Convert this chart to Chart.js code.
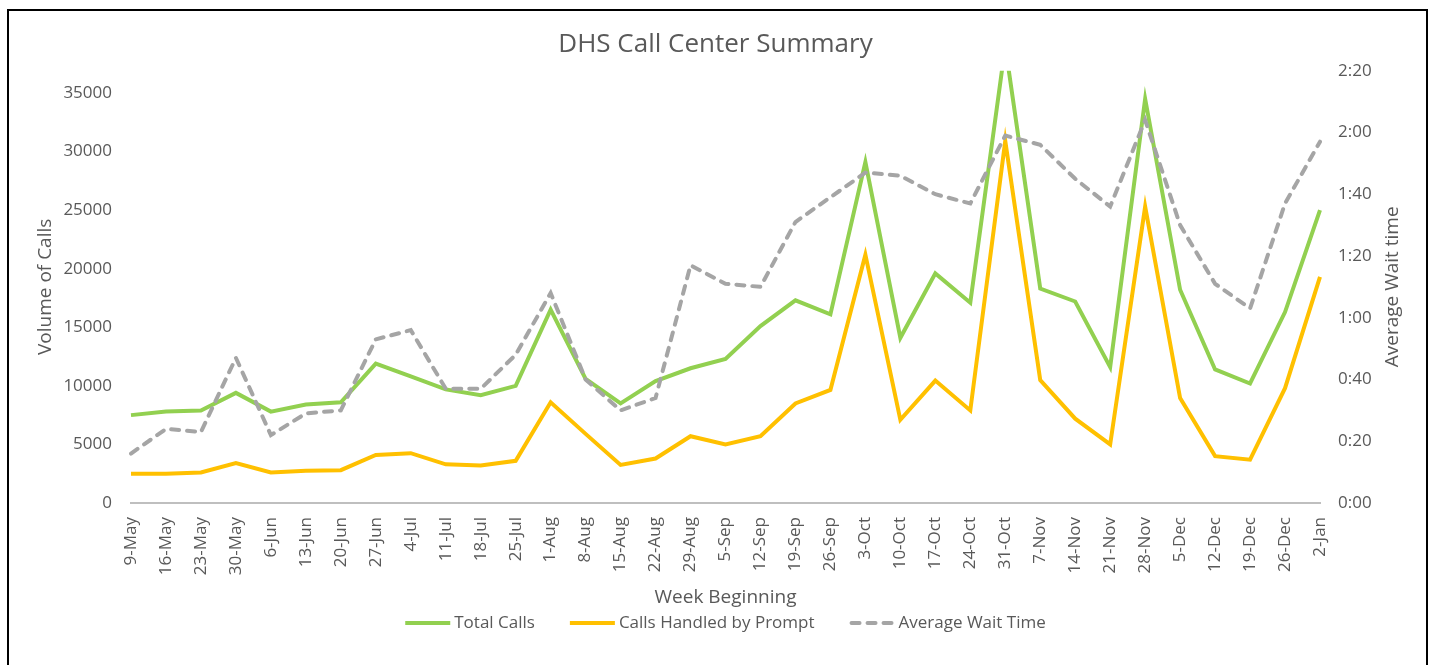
<!DOCTYPE html>
<html><head><meta charset="utf-8">
<script src="https://cdn.jsdelivr.net/npm/chart.js@4.4.1/dist/chart.umd.min.js"></script>
<style>
html,body{margin:0;padding:0;background:#fff;width:1431px;height:665px;overflow:hidden;}
#wrap{position:absolute;left:0;top:0;width:1431px;height:665px;}
#frame{position:absolute;left:7px;top:9px;width:1421px;height:700px;border:2px solid #000;box-sizing:border-box;pointer-events:none;}
</style></head><body>
<div id="wrap"><canvas id="c" width="1431" height="665"></canvas></div>
<div id="frame"></div>
<script>
const weeks = ['9-May','16-May','23-May','30-May','6-Jun','13-Jun','20-Jun','27-Jun','4-Jul','11-Jul','18-Jul','25-Jul','1-Aug','8-Aug','15-Aug','22-Aug','29-Aug','5-Sep','12-Sep','19-Sep','26-Sep','3-Oct','10-Oct','17-Oct','24-Oct','31-Oct','7-Nov','14-Nov','21-Nov','28-Nov','5-Dec','12-Dec','19-Dec','26-Dec','2-Jan'];
const totalCalls = [7500,7800,7900,9400,7800,8400,8600,11900,10800,9700,9200,10000,16500,10600,8500,10400,11500,12300,15100,17300,16100,29100,14100,19600,17100,39000,18300,17200,11600,34500,18200,11400,10200,16300,25000];
const promptCalls = [2500,2500,2600,3400,2600,2750,2800,4100,4250,3300,3200,3600,8600,5900,3250,3800,5700,5000,5700,8500,9650,21200,7100,10450,7900,30900,10500,7200,5000,25300,8950,4000,3700,9800,19300];
const waitSeconds = [16,24,23,47,22,29,30,53,56,37,37,48,68,40,30,34,77,71,70,91,99,107,106,100,97,119,116,105,96,124,90,71,63,97,117];
const volumeTicks = [0,5000,10000,15000,20000,25000,30000,35000];
const waitTicks = [0,20,40,60,80,100,120,140];

const TEXT = '#595959';
const FONT = '"Open Sans", sans-serif';
const AREA = {left:131, right:1320, top:70.7, bottom:503};
const W = 1431, H = 665;

function fmtTime(s){ const m=Math.floor(s/60), r=Math.round(s%60); return m+':'+(r<10?'0':'')+r; }

const extras = {
  id:'extras',
  afterDraw(chart){
    const ctx = chart.ctx, ca = chart.chartArea;
    ctx.save();
    ctx.font = '19px ' + FONT;
    ctx.fillStyle = TEXT; ctx.textAlign='center'; ctx.textBaseline='middle';
    ctx.translate(1393, (ca.top+ca.bottom)/2);
    ctx.rotate(-Math.PI/2);
    ctx.fillText('Average Wait time',0,0);
    ctx.restore();

    ctx.save();
    ctx.font = '17px ' + FONT;
    const ds = chart.data.datasets;
    const sw=45, g1=4, g2=35;
    const widths = ds.map(d=>ctx.measureText(d.label).width);
    const total = widths.reduce((s,w)=>s+sw+g1+w,0) + g2*(ds.length-1);
    let x = (ca.left+ca.right)/2 - total/2;
    const y = 623;
    ds.forEach((d,i)=>{
      ctx.beginPath();
      ctx.strokeStyle = d.borderColor; ctx.lineWidth = d.borderWidth;
      ctx.lineCap = d.borderCapStyle || 'butt';
      ctx.setLineDash(d.borderDash||[]);
      const inset = (d.borderCapStyle==='round') ? d.borderWidth/2 : 0;
      ctx.moveTo(x+inset,y); ctx.lineTo(x+sw-inset,y); ctx.stroke();
      ctx.setLineDash([]);
      ctx.fillStyle=TEXT; ctx.textAlign='left'; ctx.textBaseline='middle';
      ctx.fillText(d.label, x+sw+g1, y);
      x += sw+g1+widths[i]+g2;
    });
    ctx.restore();
  }
};

new Chart(document.getElementById('c'), {
  type:'line',
  data:{
    labels: weeks,
    datasets:[
      {label:'Total Calls', data: totalCalls, borderColor:'#92D050', backgroundColor:'#92D050', borderWidth:4, pointRadius:0, tension:0, yAxisID:'y', order:3},
      {label:'Calls Handled by Prompt', data: promptCalls, borderColor:'#FFC000', backgroundColor:'#FFC000', borderWidth:4, pointRadius:0, tension:0, yAxisID:'y', order:2},
      {label:'Average Wait Time', data: waitSeconds, borderColor:'#A5A5A5', backgroundColor:'#A5A5A5', borderWidth:4, borderDash:[8,8], borderCapStyle:'round', pointRadius:0, tension:0, yAxisID:'y1', order:1}
    ]
  },
  options:{
    responsive:false, animation:false,
    layout:{padding:0},
    plugins:{
      legend:{display:false},
      tooltip:{enabled:false},
      title:{display:true, text:'DHS Call Center Summary', color:TEXT, font:{family:FONT, size:26, weight:'normal'}, padding:{top:29.4, bottom:10.1}}
    },
    scales:{
      x:{
        offset:false,
        grid:{display:false, drawTicks:false},
        border:{display:true, color:'#BFBFBF', width:2},
        ticks:{autoSkip:false, maxRotation:90, minRotation:90, color:TEXT, font:{family:FONT, size:17}, padding:14},
        title:{display:true, text:'Week Beginning', color:TEXT, font:{family:FONT, size:19}, padding:{top:0, bottom:55.6}},
        afterFit(s){ s.height = H - AREA.bottom; }
      },
      y:{
        position:'left', min:0, max:36900,
        grid:{display:false, drawTicks:false}, border:{display:false},
        ticks:{color:TEXT, font:{family:FONT, size:17}, padding:19, callback:(v)=>String(v)},
        afterBuildTicks(s){ s.ticks = volumeTicks.map(v=>({value:v})); },
        title:{display:true, text:'Volume of Calls', color:TEXT, font:{family:FONT, size:19}, padding:{top:34, bottom:0}},
        afterFit(s){ s.width = AREA.left; }
      },
      y1:{
        position:'right', min:0, max:140,
        grid:{display:false, drawTicks:false}, border:{display:false},
        ticks:{color:TEXT, font:{family:FONT, size:17}, padding:18, callback:(v)=>fmtTime(v)},
        afterBuildTicks(s){ s.ticks = waitTicks.map(v=>({value:v})); },
        afterFit(s){ s.width = W - AREA.right; }
      }
    }
  },
  plugins:[extras]
});
</script>
</body></html>
